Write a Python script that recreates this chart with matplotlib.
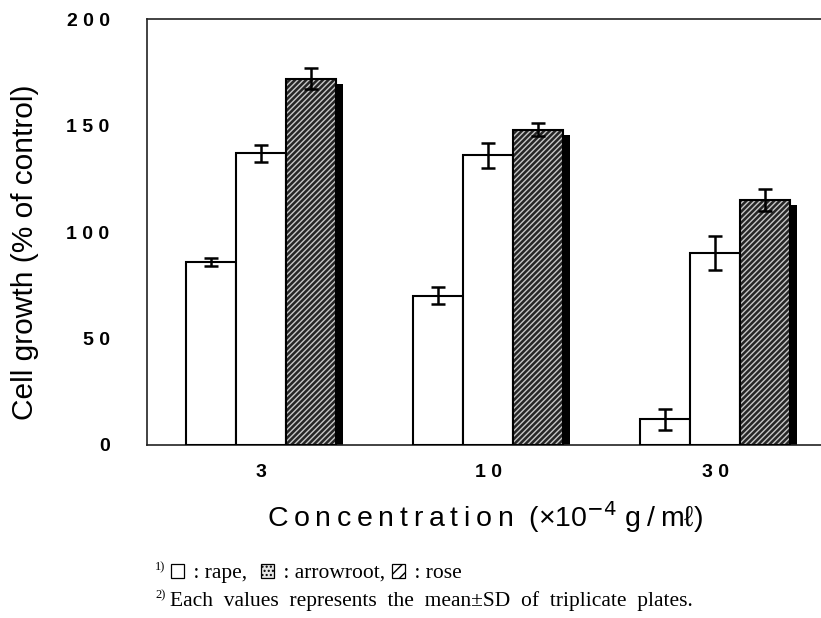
import matplotlib
matplotlib.use("Agg")
import matplotlib.pyplot as plt
from matplotlib.patches import Rectangle
import numpy as np

# ======== Dados =========
concentracoes = ["3", "1 0", "3 0"]
rape = [86, 70, 12]
rape_sd = [2, 4, 5]
arrowroot = [137, 136, 90]
arrowroot_sd = [4, 6, 8]
rose = [172, 148, 115]
rose_sd = [5, 3, 5]
yticks = [0, 50, 100, 150, 200]
ytick_labels = ["0", "5 0", "1 0 0", "1 5 0", "2 0 0"]

sans = ["Liberation Sans", "DejaVu Sans"]
serif = ["Liberation Serif", "DejaVu Serif"]

W, H = 821, 618
fig = plt.figure(figsize=(W / 100, H / 100), dpi=100)
ax = fig.add_axes([147 / W, 0.28, 682 / W, 0.689])

x = np.arange(len(concentracoes))
w = 0.22

# barras brancas
ax.bar(x - w, rape, w, color="white", edgecolor="black", linewidth=1.5, zorder=3)
ax.bar(x, arrowroot, w, color="white", edgecolor="black", linewidth=1.5, zorder=3)

# sombra preta atrás da barra hachurada
ax.bar(x + w + 0.03, np.array(rose) - 2.5, w, color="black", linewidth=0, zorder=2)
plt.rcParams["hatch.linewidth"] = 1.0
ax.bar(x + w, rose, w, color="#262626", edgecolor="#c8c8c8", hatch="//////",
       linewidth=0, zorder=3)
ax.bar(x + w, rose, w, color="none", edgecolor="black", linewidth=1.5, zorder=4)

# barras de erro
for pos, vals, sd in [(x - w, rape, rape_sd), (x, arrowroot, arrowroot_sd), (x + w, rose, rose_sd)]:
    ax.errorbar(pos, vals, yerr=sd, fmt="none", ecolor="black", elinewidth=1.8,
                capsize=5, capthick=1.8, zorder=5)

ax.set_xlim(-0.5, 2.5)
ax.set_ylim(0, 200)
ax.set_xticks(x)
ax.set_xticklabels(concentracoes, family=sans, fontsize=14, fontweight="bold")
ax.set_yticks(yticks)
ax.set_yticklabels(ytick_labels, family=sans, fontsize=14, fontweight="bold")
ax.tick_params(length=0)
ax.tick_params(axis="y", pad=27)
ax.tick_params(axis="x", pad=14)
ax.spines["right"].set_visible(False)
for s in ["left", "bottom", "top"]:
    ax.spines[s].set_linewidth(1.2)
    ax.spines[s].set_color("#222222")

# rótulos dos eixos
fig.text(25 / W, 1 - 252 / H, "Cell growth (% of control)", rotation=90,
         ha="center", va="center", family=sans, fontsize=21.5)
xlabel = "\u2009".join("Concentration") + "  (\u00d710$^{-4}$ g\u2009/\u2009m\u2113)"
fig.text(485 / W, 1 - 517 / H, xlabel, ha="center", va="center",
         family=sans, fontsize=20.5)

# notas de rodapé (montadas peça por peça)
renderer = fig.canvas.get_renderer()
fs = 15.5


def texto(px, py, s, size=fs):
    t = fig.text(px / W, 1 - py / H, s, family=serif, fontsize=size, va="baseline")
    return t.get_window_extent(renderer).x1


def caixa(px, py, cor, hachura):
    r = Rectangle((px / W, 1 - py / H), 13 / W, 14 / H, transform=fig.transFigure,
                  facecolor=cor, edgecolor="black", linewidth=0.9, hatch=hachura)
    fig.add_artist(r)
    return px + 13


base1 = 578
pos = texto(155, base1 - 8, "1)", size=9)
pos = caixa(pos + 6, base1, "white", None)
pos = texto(pos + 4, base1, " : rape,")
pos = caixa(pos + 14, base1, "#e6e6e6", "....")
pos = texto(pos + 4, base1, " : arrowroot,")
pos = caixa(pos + 6, base1, "white", "///")
pos = texto(pos + 4, base1, " : rose")

base2 = 606
texto(155, base2 - 8, "2)", size=9)
texto(170, base2, "Each  values  represents  the  mean\u00b1SD  of  triplicate  plates.")

fig.savefig("out.png", dpi=100)
